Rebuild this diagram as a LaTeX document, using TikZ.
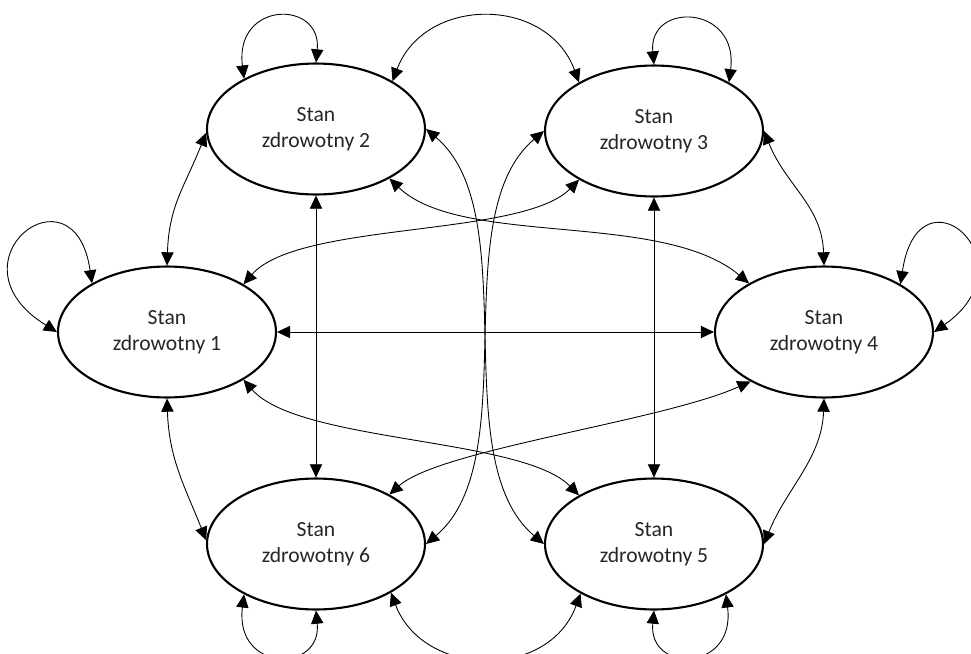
\documentclass[tikz,border=0pt]{standalone}
\usepackage{fontspec}
\setmainfont{Carlito}
\usetikzlibrary{shapes.geometric,arrows.meta}
\begin{document}
\begin{tikzpicture}[
x=0.02cm, y=-0.02cm,
stan/.style={ellipse,draw,line width=1.2pt,minimum width=4.36cm,minimum height=2.62cm,
  inner sep=0pt,align=center,text=black!85,font=\fontsize{12.3}{14.7}\selectfont},
link/.style={line width=0.5pt,<->,>={Triangle[length=7.5pt,width=7pt]}}
]
\useasboundingbox (0,0) rectangle (971,653);
\node[stan] (s1) at (167,332) {Stan\\zdrowotny 1};
\node[stan] (s2) at (316,129) {Stan\\zdrowotny 2};
\node[stan] (s3) at (654,131) {Stan\\zdrowotny 3};
\node[stan] (s4) at (824,332) {Stan\\zdrowotny 4};
\node[stan] (s5) at (654,544) {Stan\\zdrowotny 5};
\node[stan] (s6) at (316,544) {Stan\\zdrowotny 6};
\draw[link] (s2.145) .. controls +(-10,-78) and +(6,-63) .. (s2.90);
\draw[link] (s3.90) .. controls +(-6,-63) and +(10,-78) .. (s3.33);
\draw[link] (s1.147) .. controls +(-18,-123) and +(-113,-70) .. (s1.180);
\draw[link] (s4.32) .. controls +(18,-123) and +(100,-70) .. (s4.0);
\draw[link] (s6.215) .. controls +(-10,78) and +(6,63) .. (s6.270);
\draw[link] (s5.270) .. controls +(-6,63) and +(10,78) .. (s5.325);
\draw[link] (s1.90) .. controls +(2,-60) and +(-22,55) .. (s2.182);
\draw[link] (s1.270) .. controls +(2,60) and +(-22,-55) .. (s6.178);
\draw[link] (s3.east) .. controls +(22,55) and +(-2,-60) .. (s4.90);
\draw[link] (s4.270) .. controls +(-2,60) and +(22,-55) .. (s5.east);
\draw[link] (s2.32) .. controls +(32,-85) and +(-32,-87) .. (s3.147);
\draw[link] (s6.327) .. controls +(32,85) and +(-32,87) .. (s5.214);
\draw[link] (s1.east) -- (s4.west);
\draw[link] (s2.south) -- (s6.north);
\draw[link] (s3.south) -- (s5.north);
\draw[link] (s2.east) .. controls +(100,84) and +(-100,-84) .. (s5.west);
\draw[link] (s3.west) .. controls +(-100,84) and +(100,-84) .. (s6.east);
\draw[link] (s2.326) .. controls +(72,69) and +(-87,-73) .. (s4.147);
\draw[link] (s1.32) .. controls +(55,-63) and +(-57,58) .. (s3.213);
\draw[link] (s1.328) .. controls +(55,63) and +(-57,-58) .. (s5.147);
\draw[link] (s6.34) .. controls +(50,-45) and +(-90,40) .. (s4.214);
\end{tikzpicture}
\end{document}
